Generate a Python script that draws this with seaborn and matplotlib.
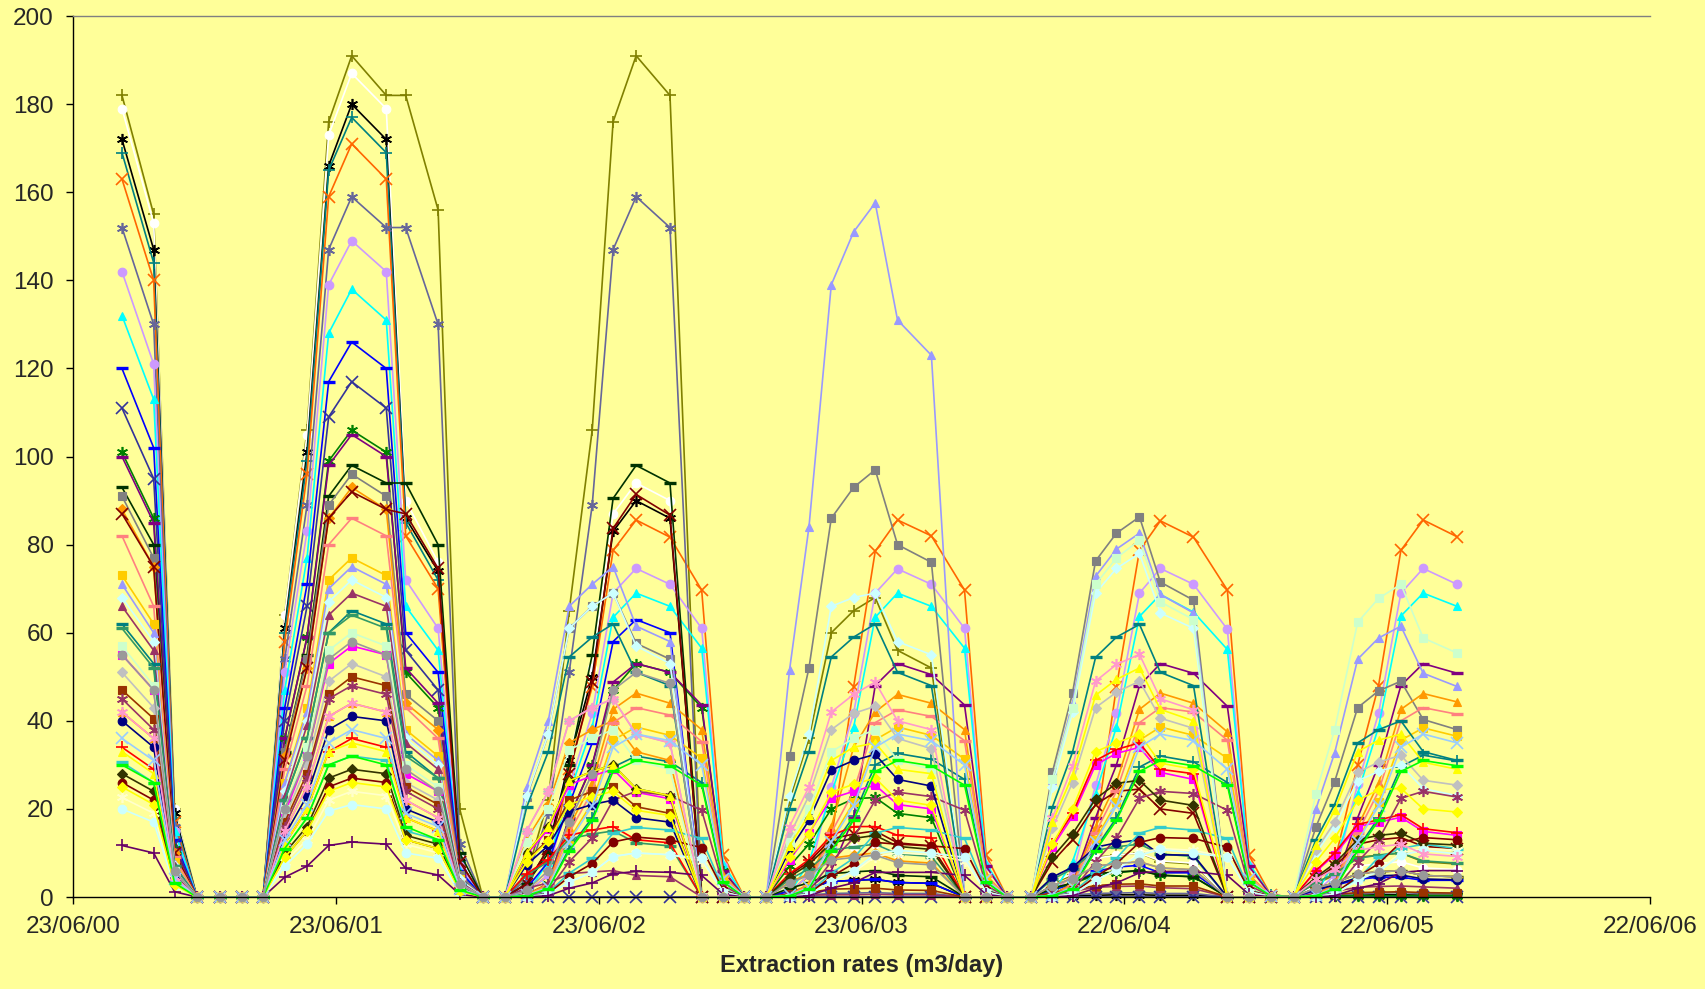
import matplotlib
matplotlib.use('Agg')
import matplotlib.pyplot as plt
import pandas as pd
import seaborn as sns

# sampling dates (irregular, roughly monthly)
dates = ['2000-08-30', '2000-10-13', '2000-11-11', '2000-12-12', '2001-01-13', '2001-02-13', '2001-03-14',
         '2001-04-13', '2001-05-14', '2001-06-13', '2001-07-15', '2001-09-01', '2001-09-28', '2001-11-12',
         '2001-12-12', '2002-01-13', '2002-02-13',
         '2002-03-15', '2002-04-14', '2002-05-13', '2002-06-14', '2002-07-13', '2002-08-14', '2002-09-30',
         '2002-11-13', '2002-12-13', '2003-01-11',
         '2003-02-11', '2003-03-15', '2003-04-11', '2003-05-12', '2003-06-12', '2003-07-12', '2003-08-12',
         '2003-09-28', '2003-11-13', '2003-12-13', '2004-01-11',
         '2004-02-14', '2004-03-14', '2004-04-11', '2004-05-13', '2004-06-11', '2004-07-13', '2004-08-11',
         '2004-09-26', '2004-11-12', '2004-12-12', '2005-01-11', '2005-02-12',
         '2005-03-15', '2005-04-10', '2005-05-12', '2005-06-10', '2005-07-11', '2005-08-11', '2005-09-27']

tick_dates = ['2000-06-23', '2001-06-23', '2002-06-23', '2003-06-23', '2004-06-22', '2005-06-22', '2006-06-22']
tick_labels = ['23/06/00', '23/06/01', '23/06/02', '23/06/03', '22/06/04', '22/06/05', '22/06/06']

olive_plus = [182, 155, 20, 0, 0, 0, 0,
              64, 106, 176, 191, 182, 182, 156, 20, 0, 0,
              5, 22, 65, 106, 176, 191, 182, 0, 0, 0,
              0, 22, 36, 60, 65, 68, 56, 52, 0, 0, 0,
              0, 3, 5, 9, 9.5, 10, 8, 7.5, 0, 0, 0, 0,
              3, 5, 9, 9.5, 10, 8, 7.5]
white_circle = [179, 153, 20, 0, 0, 0, 0,
                64, 105, 173, 187, 179, 90, 76, 9, 0, 0,
                3, 11, 32, 52, 87, 94, 90, 0, 0, 0,
                0, 4, 6.4, 10.6, 11.4, 12, 9.8, 9.2, 0, 0, 0,
                0, 3.3, 5.3, 8.8, 9.5, 10, 8.2, 7.7, 0, 0, 0, 0,
                2.6, 4.2, 7, 7.6, 8, 6.6, 6.2]
black_star = [172, 147, 19, 0, 0, 0, 0,
              61, 101, 166, 180, 172, 86, 74, 8, 0, 0,
              3, 11, 31, 50, 83, 90, 86, 0, 0, 0,
              0, 1.3, 2.1, 3.5, 3.8, 4, 3.3, 3.1, 0, 0, 0,
              0, 0.2, 0.3, 0.4, 0.5, 0.5, 0.4, 0.4, 0, 0, 0, 0,
              0.2, 0.3, 0.4, 0.5, 0.5, 0.4, 0.4]
teal_plus = [169, 144, 18, 0, 0, 0, 0,
             60, 99, 165, 177, 169, 85, 72, 8, 0, 0,
             0.3, 2, 11, 18, 29.5, 32, 30.7, 26, 3.5, 0,
             0, 0.3, 2, 11, 18.3, 30, 32.6, 31.3, 26.7, 3.6, 0,
             0, 0.3, 2, 11, 18, 29.5, 32, 30.7, 26, 3.5, 0.4, 0,
             0.3, 2, 11, 18, 29.6, 32.2, 30.9]
orange_x = [163, 140, 17, 0, 0, 0, 0,
            58, 96, 159, 171, 163, 82, 70, 8, 0, 0,
            1, 5, 29, 47.7, 78.7, 85.6, 81.7, 69.7, 9.5, 0,
            0, 1, 5, 13, 47.7, 78.5, 85.6, 82, 69.7, 9.5, 0,
            0, 1, 5, 15, 47.7, 78.7, 85.4, 81.7, 69.7, 9.5, 0.5, 0,
            1, 8, 30, 48, 78.7, 85.6, 81.8]
slate_star = [152, 130, 16, 0, 0, 0, 0,
              54, 89, 147, 159, 152, 152, 130, 12, 0, 0,
              4, 19, 51, 89, 147, 159, 152, 0, 0, 0,
              0, 0.3, 0.5, 0.8, 0.9, 1, 0.8, 0.8, 0, 0, 0,
              0, 0.3, 0.5, 0.8, 0.9, 1, 0.8, 0.8, 0, 0, 0, 0,
              0.3, 0.5, 0.8, 0.9, 1, 0.8, 0.8]
lavender_circle = [142, 121, 15, 0, 0, 0, 0,
                   51, 83, 139, 149, 142, 72, 61, 7, 0, 0,
                   1, 5, 25, 41.7, 69, 74.6, 71, 61, 7, 0,
                   0, 1, 5, 25, 41.7, 69, 74.5, 71, 61, 7, 0,
                   0, 1, 5, 25.4, 41.7, 69, 74.6, 71, 60.8, 7, 0.5, 0,
                   1, 5, 25.6, 41.7, 69, 74.6, 71]
cyan_triangle = [132, 113, 15, 0, 0, 0, 0,
                 47, 77, 128, 138, 131, 66, 56, 6, 0, 0,
                 0.7, 8, 23.5, 38.6, 63.5, 69, 66, 56.5, 7.6, 0,
                 0, 0.7, 8, 23.5, 38.5, 63.5, 69, 66, 56.5, 7.6, 0,
                 0, 0.7, 8, 23.5, 38.6, 63.7, 68.7, 64.7, 56.2, 7.6, 0.5, 0,
                 0.7, 8, 23.5, 38.6, 63.8, 69, 66]
blue_dash = [120, 102, 13, 0, 0, 0, 0,
             43, 71, 117, 126, 120, 60, 51, 6, 0, 0,
             2, 8, 21, 35, 58, 63, 60, 0, 0, 0,
             0, 1.3, 2.1, 3.5, 3.8, 4, 3.3, 3.1, 0, 0, 0,
             0, 1.5, 3, 5.8, 6.8, 7.2, 5.5, 5.5, 0, 0, 0, 0,
             1.5, 2.6, 4, 4.5, 4.5, 3.8, 3.8]
dkslate_x = [111, 95, 12, 0, 0, 0, 0,
             40, 66, 109, 117, 111, 56, 47, 5, 0, 0,
             0, 0, 0, 0, 0, 0, 0, 0, 0, 0,
             0, 0, 0, 0, 0, 0, 0, 0, 0, 0, 0,
             0, 0, 0, 0, 0, 0, 0, 0, 0, 0, 0, 0,
             0, 0, 0, 0, 0, 0, 0]
green_star = [101, 86, 11, 0, 0, 0, 0,
              36, 59, 99, 106, 101, 51, 43, 5, 0, 0,
              0.5, 3, 18, 30, 47, 53, 51, 43, 6, 0,
              0, 7, 12, 20, 22.3, 22.6, 19, 18, 0, 0, 0,
              0, 2, 3, 5, 5.5, 6, 5, 4.6, 0, 0, 0, 0,
              0.3, 0.3, 0.3, 0.3, 0.3, 0.3, 0.3]
purple_dash = [100, 85, 11, 0, 0, 0, 0,
               36, 59, 98, 105, 100, 52, 44, 5, 0, 0,
               0.5, 3, 18, 30, 48.8, 53, 51, 43.6, 6, 0,
               0, 0.5, 2, 6, 18, 48, 53, 50.5, 43.6, 7, 0,
               0, 0.5, 3, 18, 30, 48, 53, 50.8, 43.3, 7, 0.5, 0,
               0.5, 3, 18, 30, 48, 53, 50.8]
dkgreen_dash = [93, 80, 10, 0, 0, 0, 0,
                33, 55, 91, 98, 94, 94, 80, 10, 0, 0,
                3, 10, 30, 55, 90.5, 98, 94, 0, 0, 0,
                0, 2, 3.2, 5.3, 5.7, 6, 4.9, 4.6, 0, 0, 0,
                0, 2, 3.2, 5.3, 5.7, 6, 4.9, 4.6, 0, 0, 0, 0,
                2, 3.2, 5.3, 5.7, 6, 4.9, 4.6]
grey_square = [91, 77, 10, 0, 0, 0, 0,
               33, 54, 89, 96, 91, 46, 40, 5, 0, 0,
               22.7, 37, 61, 66, 69, 57.6, 54, 0, 0, 0,
               0, 32, 52, 86, 93, 97, 80, 76, 0, 0, 0,
               0, 28.3, 46.3, 76.3, 82.6, 86.3, 71.5, 67.4, 0, 0, 0, 0,
               15.9, 26.2, 43, 46.8, 49, 40.3, 38]
orange_diamond = [88, 75, 10, 0, 0, 0, 0,
                  32, 52, 86, 93, 88, 44, 38, 4, 0, 0,
                  13, 21, 35, 38, 40, 33, 31, 0, 0, 0,
                  0, 3.3, 5.3, 8.8, 9.5, 10, 8.2, 7.7, 0, 0, 0,
                  0, 2.6, 4.2, 7, 7.6, 8, 6.6, 6.2, 0, 0, 0, 0,
                  2, 3.2, 5.3, 5.7, 6, 4.9, 4.6]
orange_triangle = [42, 36, 4.6, 0, 0, 0, 0,
                   15, 25, 41, 44, 42, 22, 18, 2, 0, 0,
                   0.5, 3, 16, 26, 42.6, 46.3, 44, 38, 5, 0,
                   0, 0.5, 3, 16, 34, 42, 46, 44, 38, 5, 0,
                   0, 0.5, 3, 16, 26, 42.6, 46.3, 44, 37.5, 5, 0.4, 0,
                   0.5, 3, 16, 25.8, 42.6, 46.2, 44.3]
maroon_x = [87, 75, 10, 0, 0, 0, 0,
            31, 52, 86, 92, 88, 87, 74.6, 8, 0, 0,
            3, 11, 28, 48.8, 83.7, 91.4, 86.7, 0, 0, 0,
            0, 5, 8, 13.2, 14.3, 15, 12.3, 11.6, 0, 0, 0,
            0, 8, 13, 21, 24, 24.5, 20, 19, 0, 0, 0, 0,
            4, 7, 12, 13, 13.5, 11.5, 11]
salmon_dash = [82, 66, 9, 0, 0, 0, 0,
               29, 48, 80, 86, 82, 43, 36, 4, 0, 0,
               0.4, 2.6, 14.6, 24, 39.6, 43, 41.3, 35.3, 4.7, 0,
               0, 0.4, 2.6, 14.6, 24, 39.6, 42.5, 41, 35.5, 4.7, 0,
               0, 0.4, 2.6, 14.6, 24, 39.6, 43, 42, 35.6, 4.7, 0.4, 0,
               0.4, 2.6, 14.6, 24, 40, 43, 41.5]
gold_square = [73, 62, 8, 0, 0, 0, 0,
               26, 43, 72, 77, 73, 38, 32, 4, 0, 0,
               0.4, 2.3, 13, 21.5, 35.6, 38.6, 36.7, 31.5, 4.2, 0,
               0, 0.4, 2.3, 13, 21.5, 35.7, 38.6, 36.7, 31.3, 4.2, 0,
               0, 0.4, 2.3, 13, 21.5, 35.6, 38.6, 36.7, 31.5, 4.2, 0.3, 0,
               0.4, 2.3, 13, 21.5, 35.6, 38.4, 36.5]
lav_triangle = [71, 60, 7.5, 0, 0, 0, 0,
                26, 42, 70, 75, 71, 37, 31, 4, 0, 0,
                25, 40, 66, 71, 75, 61.5, 58, 0, 0, 0,
                0, 51.5, 84, 139, 151, 157.6, 131, 123, 0, 0, 0,
                0, 26.5, 44, 72.8, 79, 82.6, 68.7, 64.5, 0, 0, 0, 0,
                20, 32.7, 54, 58.8, 61.5, 50.8, 47.8]
ltcyan_diamond = [68, 58, 7, 0, 0, 0, 0,
                  24, 40, 67, 72, 68, 36, 30, 4, 0, 0,
                  23, 37, 61, 66, 69, 57, 53, 0, 0, 0,
                  0, 23, 37, 66, 68, 69, 58, 55, 0, 0, 0,
                  0, 25, 42, 69, 74.6, 78, 64.5, 61, 0, 0, 0, 0,
                  10, 16, 26.4, 28.5, 30, 24.6, 23]
purple_triangle = [66, 56, 7, 0, 0, 0, 0,
                   23, 39, 64, 69, 66, 35, 29, 3.5, 0, 0,
                   2, 3.2, 5.3, 5.7, 6, 4.9, 4.6, 0, 0, 0,
                   0, 0.3, 0.4, 0.5, 0.5, 0.6, 0.5, 0.5, 0, 0, 0,
                   0, 0.8, 1.3, 2.2, 2.4, 2.5, 2.1, 1.9, 0, 0, 0, 0,
                   0.8, 1.3, 2.2, 2.4, 2.5, 2.3, 2]
teal_dash = [62, 53, 7, 0, 0, 0, 0,
             22, 36, 60, 65, 62, 33, 27, 3, 0, 0,
             20.4, 33, 54.5, 59, 62, 51, 48, 0, 0, 0,
             0, 20, 33, 54.5, 59, 62, 51, 48, 0, 0, 0,
             0, 20.4, 32.9, 54.4, 59, 61.9, 51, 48, 0, 0, 0, 0,
             13, 21, 35, 38, 40, 33, 31]
seagreen_dash = [61, 52, 7, 0, 0, 0, 0,
                 22, 36, 60, 64, 61, 32, 27, 3, 0, 0,
                 5, 8, 13.2, 14.3, 15, 12.3, 11.6, 0, 0, 0,
                 0, 4, 6.4, 10.6, 11.4, 12, 9.8, 9.2, 0, 0, 0,
                 0, 4, 6.4, 10.6, 11.4, 12, 9.8, 9.2, 0, 0, 0, 0,
                 3.3, 5.3, 8.8, 9.5, 10, 8.2, 7.7]
magenta_square = [55, 47, 6, 0, 0, 0, 0,
                  19, 32, 53, 57, 55, 28, 24, 3, 0, 0,
                  9.6, 15.4, 25.5, 27.5, 29, 23.8, 22.3, 0, 0, 0,
                  0, 8.4, 14.5, 22.4, 24, 25.4, 21, 20, 0, 0, 0,
                  0, 11.3, 18.3, 30, 32.6, 34, 28.3, 26.7, 0, 0, 0, 0,
                  5.8, 9.6, 16, 17, 18.1, 14.9, 14]
red_plus = [34, 29, 3.5, 0, 0, 0, 0,
            12, 20, 33, 36, 34, 18, 15, 2, 0, 0,
            5.3, 8.5, 14, 15.2, 16, 13, 12.3, 0, 0, 0,
            0, 5.3, 8.5, 14, 16, 16, 14, 13.5, 0, 0, 0,
            0, 12, 19, 31, 33.5, 35, 29, 28, 0, 0, 0, 0,
            6, 10, 16.5, 17.5, 18.7, 15.5, 14.6]
silver_diamond = [51, 43, 5.5, 0, 0, 0, 0,
                  18, 30, 49, 53, 50, 26, 22, 3, 0, 0,
                  15, 24, 40, 43, 45, 37, 35, 0, 0, 0,
                  0, 14, 23, 38, 41.7, 43.3, 36, 33.7, 0, 0, 0,
                  0, 15.6, 26, 43, 46.5, 49, 40.6, 38.3, 0, 0, 0, 0,
                  10.6, 17, 28.3, 30.6, 32.2, 26.5, 25.4]
brown_square = [47, 40.5, 5, 0, 0, 0, 0,
                17, 28, 46, 50, 48, 25, 21, 2.5, 0, 0,
                8.3, 13, 22, 24, 25, 20.5, 19, 0, 0, 0,
                0, 0.7, 1, 1.8, 1.9, 2, 1.6, 1.5, 0, 0, 0,
                0, 1, 1.6, 2.6, 2.9, 3, 2.5, 2.5, 0, 0, 0, 0,
                0.4, 0.6, 1, 1.1, 1.2, 1, 0.9]
violet_star = [45, 38, 5, 0, 0, 0, 0,
               16, 27, 45, 48, 46, 24, 20, 2.4, 0, 0,
               0.3, 1.5, 8, 13.4, 22, 24, 23, 19.7, 2.6, 0,
               0, 0.3, 1.5, 8, 13.4, 22, 23.8, 22.8, 19.7, 2.6, 0,
               0, 0.3, 1.5, 8, 13.4, 22.4, 24, 23.5, 19.7, 2.6, 0.3, 0,
               0.3, 1.5, 8, 13, 22.4, 24, 22.7]
navy_circle = [40, 34, 4, 0, 0, 0, 0,
               14, 23, 38, 41, 40, 20, 17, 2, 0, 0,
               7.3, 11.7, 19.4, 21, 22, 18, 17, 0, 0, 0,
               0, 10.6, 17.4, 28.8, 31, 32.4, 26.7, 25.2, 0, 0, 0,
               0, 4.5, 6.8, 11.3, 12.3, 13, 9.6, 9.5, 0, 0, 0, 0,
               1.7, 2.7, 4.4, 4.8, 5, 4.1, 3.9]
turq_dash = [30.6, 26, 3.3, 0, 0, 0, 0,
             11, 18, 30, 32, 31, 15, 13, 1.5, 0, 0,
             0.2, 1, 5.4, 8.8, 14.5, 15.8, 15.2, 13.3, 1.7, 0,
             0, 0.2, 1, 5.4, 8.8, 14.5, 15.8, 15.2, 13.3, 1.7, 0,
             0, 0.2, 1, 5.4, 8.8, 14.5, 15.8, 15.2, 13.3, 1.7, 0.2, 0,
             0.2, 1, 4, 9, 11, 12, 11]
dkolive_diamond = [28, 24, 3, 0, 0, 0, 0,
                   10, 16, 27, 29, 28, 14, 12, 1.4, 0, 0,
                   10, 16, 26.4, 28.5, 30, 24.6, 23, 0, 0, 0,
                   0, 4.6, 7.4, 12.3, 13.3, 14, 11.5, 10.8, 0, 0, 0,
                   0, 9, 14.3, 22.3, 25.8, 26.5, 22, 20.8, 0, 0, 0, 0,
                   4.5, 7.6, 13, 14, 14.5, 12.2, 11.8]
maroon_circle = [26, 22, 2.7, 0, 0, 0, 0,
                 9, 15, 25, 27, 26, 13, 11, 1.3, 0, 0,
                 0.1, 0.8, 4.6, 7.6, 12.5, 13.6, 13, 11.2, 1.5, 0,
                 0, 0.1, 0.8, 4.6, 7.6, 12.4, 12, 11.6, 11, 1.5, 0,
                 0, 0.1, 0.8, 4.6, 7.6, 12.4, 13.5, 13.3, 11.3, 1.5, 0.2, 0,
                 0.1, 0.8, 4.6, 7.6, 12.4, 13.5, 13]
cream_star = [22.6, 19, 2.4, 0, 0, 0, 0,
              8, 13, 22, 24, 23, 12, 10, 1.2, 0, 0,
              0.1, 0.6, 3.4, 5.6, 9.2, 10, 9.6, 8.2, 1.1, 0,
              0, 0.1, 0.6, 3.4, 5.6, 9.2, 10, 9.6, 8.2, 1.1, 0,
              0, 0.1, 0.7, 3.7, 6.2, 10, 11, 10.6, 9, 1.2, 0.1, 0,
              0.1, 0.7, 3.7, 6.2, 10, 11, 10.6]
ltcyan_circle = [20, 17, 2.5, 0, 0, 0, 0,
                 7, 12, 19.5, 21, 20, 10, 8.8, 1, 0, 0,
                 0.1, 0.6, 3.4, 5.6, 9.2, 10, 9.6, 8.8, 1.1, 0,
                 0, 0.1, 0.6, 3.4, 6, 9.8, 10.6, 10, 9, 1.2, 0,
                 0, 0.1, 0.6, 3.8, 6.2, 9.5, 10.8, 10, 9, 1.2, 0.1, 0,
                 0.1, 0.6, 3.8, 5.8, 9.5, 10.6, 9.8]
purple_plus = [11.7, 10, 1.2, 0, 0, 0, 0,
               4.5, 7, 11.7, 12.5, 12, 6.5, 5, 0.6, 0, 0,
               0, 0.3, 2, 3.2, 5.3, 5.8, 5.6, 4.9, 0.6, 0,
               0, 0, 0.3, 2, 3.2, 5.6, 5.6, 5.6, 4.9, 0.6, 0,
               0, 0, 0.3, 2, 3.2, 5.5, 5.8, 5.8, 4.9, 0.6, 0, 0,
               0, 0.3, 2, 3, 5.6, 6, 6]
mint_square = [57, 48, 6, 0, 0, 0, 0,
               20, 34, 56, 60, 57, 30, 25, 3, 0, 0,
               12.5, 20, 33.4, 36, 38, 31, 29, 0, 0, 0,
               0, 12.5, 20, 33, 36, 38, 31, 29, 0, 0, 0,
               0, 26.7, 43, 71, 77, 81, 67, 63, 0, 0, 0, 0,
               23.5, 38, 62.4, 67.8, 71, 58.8, 55.4]
pink_star = [42, 36, 4.5, 0, 0, 0, 0,
             15, 25, 41, 44, 42, 22, 18, 2, 0, 0,
             15, 24, 40, 43, 45, 37, 35, 0, 0, 0,
             0, 16, 25, 42, 46, 48.8, 40, 38, 0, 0, 0,
             0, 17.9, 29.7, 49, 52.8, 55.1, 45, 42.5, 0, 0, 0, 0,
             4, 6.4, 10.6, 11.4, 12, 9.8, 9.2]
yellow_triangle = [33, 28, 3.5, 0, 0, 0, 0,
                   12, 20, 33, 35, 33, 18, 15, 1.7, 0, 0,
                   10, 16, 26.4, 28.5, 30, 24.6, 23, 0, 0, 0,
                   0, 11.6, 18.6, 31, 34, 35, 29, 28, 0, 0, 0,
                   0, 17, 27.6, 45.8, 49.4, 52, 42.6, 40, 0, 0, 0, 0,
                   11.7, 19.7, 33, 35.6, 37, 30.6, 29]
yellow_diamond = [25, 21, 2.7, 0, 0, 0, 0,
                  9, 15, 24, 26, 25, 13, 11, 1.3, 0, 0,
                  8, 12.7, 21, 22.8, 24, 19.7, 18.5, 0, 0, 0,
                  0, 9, 14.3, 23.8, 25.6, 27, 22, 20.8, 0, 0, 0,
                  0, 12, 20, 33, 35, 37, 30.4, 29, 0, 0, 0, 0,
                  8, 13.3, 22, 24.3, 24.7, 20, 19.3]
ltblue_x = [36, 31, 4, 0, 0, 0, 0,
            13, 21, 35, 38, 36, 19, 16, 1.9, 0, 0,
            0.4, 2.2, 12.6, 20.7, 34, 37, 35.5, 30, 4, 0,
            0, 0.4, 2.2, 12.6, 20.7, 34, 37, 35.5, 30, 4, 0,
            0, 0.4, 2.2, 12.6, 20.7, 34, 37, 35.5, 29, 4, 0.3, 0,
            0.4, 2.2, 12.6, 20.7, 34, 37, 35]
green_line = [30, 26, 3.2, 0, 0, 0, 0,
              11, 18, 30, 32, 30, 16, 13, 1.6, 0, 0,
              0.3, 1.9, 10.5, 17.4, 28.5, 31, 29.8, 25.4, 3.4, 0,
              0, 0.3, 1.9, 10.5, 17.4, 28.5, 31, 29.8, 25.4, 3.4, 0,
              0, 0.3, 1.9, 10.5, 17.4, 28.5, 31, 29.8, 25.4, 3.4, 0.3, 0,
              0.3, 1.9, 10.5, 17.4, 28.5, 31, 29.8]
grey_circle = [55, 47, 6, 0, 0, 0, 0,
               20, 32, 54, 58, 55, 29, 24, 3, 0, 0,
               1.5, 6, 17, 28, 47, 51, 48.5, 0, 0, 0,
               0, 3.1, 5, 8.4, 9, 9.5, 7.8, 7.3, 0, 0, 0,
               0, 2.6, 4.2, 7, 7.6, 8, 6.6, 6.2, 0, 0, 0, 0,
               2, 3.2, 5.3, 5.7, 6, 4.9, 4.6]

STAR = (6, 2, 0)
series = [
    (olive_plus, '#808000', '+'), (white_circle, '#FFFFFF', 'o'), (black_star, '#000000', STAR),
    (teal_plus, '#008080', '+'), (orange_x, '#FF6600', 'x'), (slate_star, '#666699', STAR),
    (lavender_circle, '#CC99FF', 'o'), (cyan_triangle, '#00FFFF', '^'), (blue_dash, '#0000FF', '_'),
    (dkslate_x, '#333399', 'x'), (green_star, '#008000', STAR), (purple_dash, '#800080', '_'),
    (dkgreen_dash, '#003300', '_'), (grey_square, '#808080', 's'), (orange_diamond, '#FF9900', 'D'),
    (orange_triangle, '#FF9900', '^'), (maroon_x, '#800000', 'x'), (salmon_dash, '#FF8080', '_'),
    (gold_square, '#FFCC00', 's'), (lav_triangle, '#9999FF', '^'), (ltcyan_diamond, '#CCFFFF', 'D'),
    (purple_triangle, '#993366', '^'), (teal_dash, '#008080', '_'), (seagreen_dash, '#339966', '_'),
    (magenta_square, '#FF00FF', 's'), (red_plus, '#FF0000', '+'), (silver_diamond, '#C0C0C0', 'D'),
    (brown_square, '#993300', 's'), (violet_star, '#993366', STAR), (navy_circle, '#000080', 'o'),
    (turq_dash, '#33CCCC', '_'), (dkolive_diamond, '#333300', 'D'), (maroon_circle, '#800000', 'o'),
    (cream_star, '#FFFFCC', STAR), (ltcyan_circle, '#CCFFFF', 'o'), (purple_plus, '#660066', '+'),
    (mint_square, '#CCFFCC', 's'), (pink_star, '#FF99CC', STAR), (yellow_triangle, '#FFFF00', '^'),
    (yellow_diamond, '#FFFF00', 'D'), (ltblue_x, '#99CCFF', 'x'), (green_line, '#00FF00', '_'),
    (grey_circle, '#999999', 'o'),
]

sns.set_theme(style='white')
plt.rcParams['font.family'] = ['Liberation Sans', 'DejaVu Sans']

bg = '#FFFF99'
fig = plt.figure(figsize=(17.06, 9.89), dpi=100, facecolor=bg)
ax = fig.add_axes([0.0428, 0.093, 0.9244, 0.8907])
ax.set_facecolor(bg)

x = pd.to_datetime(dates)
for vals, col, mk in series:
    filled = mk in ('o', 's', 'D', '^')
    if filled:
        ms, mew = 6.2 if mk != 'D' else 5.6, 0.8
    elif mk == '_':
        ms, mew = 8, 2.4
    else:
        ms, mew = 8, 1.2
    sns.lineplot(x=x, y=vals, ax=ax, color=col, linewidth=1.2, marker=mk,
                 markersize=ms, markeredgewidth=mew, markeredgecolor=col,
                 markerfacecolor=col, estimator=None, legend=False, clip_on=False)

ax.set_xlim(pd.Timestamp('2000-06-23'), pd.Timestamp('2006-06-22'))
ax.set_ylim(0, 200)
ax.set_yticks(range(0, 201, 20))
ax.set_xticks(pd.to_datetime(tick_dates))
ax.set_xticklabels(tick_labels)
ax.tick_params(axis='both', labelsize=17.5, length=5, width=1, color='black',
               direction='out', pad=9, bottom=True, left=True)
ax.set_ylabel('')
ax.set_xlabel('Extraction rates (m3/day)', fontsize=17, fontweight='bold', labelpad=11)

for side in ('left', 'bottom'):
    ax.spines[side].set_color('black')
    ax.spines[side].set_linewidth(1)
ax.spines['top'].set_color('#808080')
ax.spines['top'].set_linewidth(1)
ax.spines['right'].set_visible(False)

fig.savefig('out.png', dpi=100, facecolor=bg)
